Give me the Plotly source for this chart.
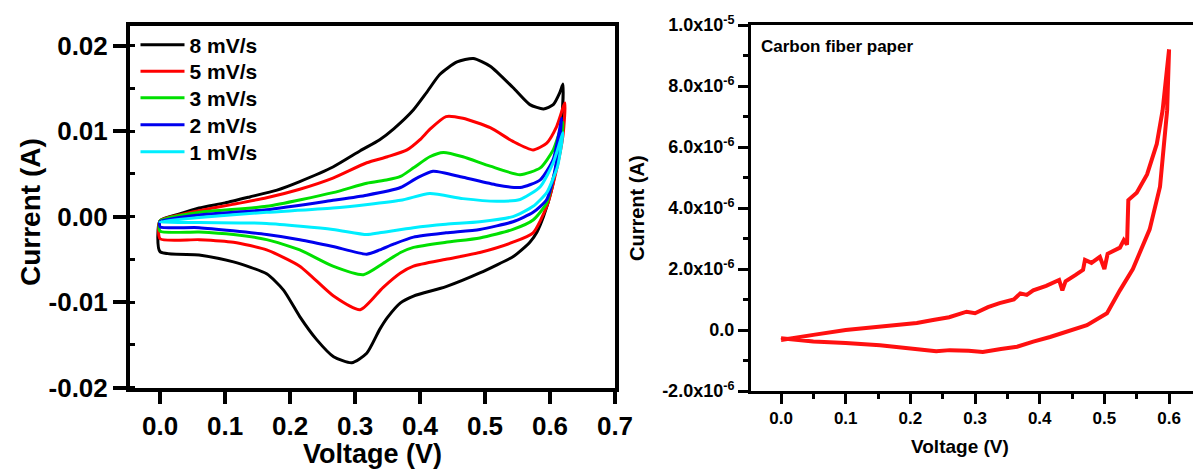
import plotly.graph_objects as go

# ---------------- Left panel: CV at different scan rates ----------------
rate_labels = ["8 mV/s", "5 mV/s", "3 mV/s", "2 mV/s", "1 mV/s"]
rate_colors = ["#000000", "#ff0000", "#00e000", "#0000ee", "#00eeff"]

v8 = [0.0, 0.03, 0.06, 0.10, 0.138, 0.18, 0.215, 0.266, 0.308, 0.338, 0.36, 0.39, 0.41, 0.43, 0.457, 0.482,
      0.508, 0.543, 0.569, 0.59, 0.605, 0.615, 0.62,
      0.618, 0.612, 0.602, 0.59, 0.58, 0.569, 0.55, 0.543, 0.492, 0.44, 0.39, 0.37, 0.35, 0.338, 0.318, 0.295,
      0.267, 0.241, 0.215, 0.19, 0.164, 0.113, 0.06, 0.0, 0.0]
i8 = [-0.0005, 0.0003, 0.0010, 0.0016, 0.0023, 0.0031, 0.0041, 0.0058, 0.0077, 0.0090, 0.0103, 0.0125, 0.0145,
      0.0166, 0.0181, 0.0185, 0.0176, 0.0151, 0.0131, 0.0126, 0.0131, 0.0145, 0.0155,
      0.0110, 0.0070, 0.0030, 0.0, -0.0018, -0.0030, -0.0043, -0.0047, -0.0066, -0.0082, -0.0093, -0.0101,
      -0.0118, -0.0132, -0.0160, -0.0171, -0.0164, -0.0144, -0.0117, -0.0086, -0.0067, -0.0053, -0.0045,
      -0.0041, -0.0005]

v5 = [0.0, 0.03, 0.06, 0.11, 0.164, 0.215, 0.266, 0.318, 0.35, 0.38, 0.40, 0.415, 0.44, 0.466, 0.508, 0.543,
      0.574, 0.595, 0.61, 0.623,
      0.62, 0.61, 0.595, 0.574, 0.543, 0.492, 0.44, 0.39, 0.37, 0.343, 0.308, 0.267, 0.215, 0.164, 0.113, 0.06,
      0.0, 0.0]
i5 = [-0.0005, 0.0002, 0.0007, 0.0014, 0.0022, 0.0032, 0.0045, 0.0063, 0.0070, 0.0078, 0.0090, 0.0102, 0.0117,
      0.0115, 0.0104, 0.0088, 0.0078, 0.0086, 0.0105, 0.0133,
      0.0095, 0.0055, 0.0012, -0.0019, -0.0030, -0.0042, -0.0050, -0.0058, -0.0066, -0.0083, -0.0109, -0.0093,
      -0.0058, -0.0039, -0.0030, -0.0027, -0.0026, -0.0005]

v3 = [0.0, 0.06, 0.164, 0.266, 0.318, 0.35, 0.37, 0.39, 0.415, 0.436, 0.466, 0.508, 0.554, 0.585, 0.605, 0.62,
      0.615, 0.605, 0.595, 0.574, 0.543, 0.492, 0.44, 0.39, 0.37, 0.343, 0.313, 0.266, 0.215, 0.164, 0.113, 0.06,
      0.0, 0.0]
i3 = [-0.0005, 0.0005, 0.0012, 0.0028, 0.0039, 0.0043, 0.0047, 0.0057, 0.0070, 0.0075, 0.0070, 0.0059, 0.0049,
      0.0057, 0.0078, 0.0110,
      0.0075, 0.0045, 0.0016, -0.0004, -0.0015, -0.0025, -0.0030, -0.0036, -0.0042, -0.0055, -0.0068, -0.0058,
      -0.0039, -0.0027, -0.0021, -0.0018, -0.0017, -0.0005]

v2 = [0.0, 0.06, 0.164, 0.266, 0.318, 0.37, 0.395, 0.42, 0.466, 0.518, 0.554, 0.585, 0.605, 0.618,
      0.612, 0.605, 0.595, 0.574, 0.543, 0.492, 0.44, 0.39, 0.36, 0.338, 0.318, 0.266, 0.215, 0.164, 0.06,
      0.0, 0.0]
i2 = [-0.0006, 0.0002, 0.0008, 0.0019, 0.0025, 0.0034, 0.0045, 0.0053, 0.0046, 0.0037, 0.0034, 0.0043,
      0.0067, 0.0115,
      0.0075, 0.0045, 0.0020, 0.0005, -0.0006, -0.0015, -0.0019, -0.0024, -0.0032, -0.0039, -0.0044, -0.0035,
      -0.0027, -0.0021, -0.0013, -0.0012, -0.0006]

v1 = [0.0, 0.06, 0.164, 0.266, 0.37, 0.415, 0.466, 0.518, 0.554, 0.585, 0.605, 0.62,
      0.612, 0.605, 0.595, 0.574, 0.543, 0.492, 0.44, 0.39, 0.338, 0.318, 0.266, 0.164, 0.06, 0.0]
i1 = [-0.0006, -0.0001, 0.0005, 0.0010, 0.0019, 0.0027, 0.0021, 0.0018, 0.0020, 0.0035, 0.0063, 0.0098,
      0.0060, 0.0045, 0.0028, 0.0012, 0.0, -0.0006, -0.0009, -0.0013, -0.0019, -0.0021, -0.0015, -0.0008,
      -0.0007, -0.0006]

left_v = [v8, v5, v3, v2, v1]
left_i = [i8, i5, i3, i2, i1]

left_xticks = [0.0, 0.1, 0.2, 0.3, 0.4, 0.5, 0.6, 0.7]
left_yticks = [-0.02, -0.01, 0.0, 0.01, 0.02]
left_yticktext = ["-0.02", "-0.01", "0.00", "0.01", "0.02"]

# ---------------- Right panel: carbon fiber paper ----------------
cfp_v = [0.0, 0.02, 0.05, 0.10, 0.153, 0.184, 0.21, 0.235, 0.26, 0.287, 0.30, 0.32, 0.338, 0.36, 0.37, 0.38,
         0.39, 0.41, 0.43, 0.435, 0.44, 0.455, 0.467, 0.47, 0.48, 0.493, 0.50, 0.505, 0.515, 0.524, 0.53, 0.535,
         0.537, 0.55, 0.566, 0.581, 0.59, 0.60,
         0.597, 0.586, 0.57, 0.544, 0.524, 0.504, 0.473, 0.45, 0.416, 0.39, 0.365, 0.34, 0.312, 0.29, 0.261,
         0.24, 0.21, 0.18, 0.153, 0.10, 0.05, 0.0]
cfp_i = [-0.33e-6, -0.25e-6, -0.16e-6, 0.0, 0.10e-6, 0.16e-6, 0.23e-6, 0.33e-6, 0.42e-6, 0.60e-6, 0.55e-6,
         0.75e-6, 0.88e-6, 1.0e-6, 1.2e-6, 1.15e-6, 1.3e-6, 1.45e-6, 1.64e-6, 1.3e-6, 1.6e-6, 1.8e-6, 1.97e-6,
         2.3e-6, 2.2e-6, 2.4e-6, 2.0e-6, 2.5e-6, 2.6e-6, 2.7e-6, 2.95e-6, 2.8e-6, 4.26e-6, 4.5e-6, 5.1e-6,
         6.1e-6, 7.2e-6, 9.2e-6,
         7.2e-6, 4.7e-6, 3.3e-6, 2.0e-6, 1.3e-6, 0.55e-6, 0.16e-6, 0.0, -0.23e-6, -0.38e-6, -0.55e-6, -0.62e-6,
         -0.72e-6, -0.68e-6, -0.66e-6, -0.70e-6, -0.63e-6, -0.58e-6, -0.50e-6, -0.43e-6, -0.38e-6, -0.27e-6]

right_xticks = [0.0, 0.1, 0.2, 0.3, 0.4, 0.5, 0.6]
right_yticks = [-2e-6, 0.0, 2e-6, 4e-6, 6e-6, 8e-6, 1e-5]
right_yticktext = ["-2.0x10<sup>-6</sup>", "0.0", "2.0x10<sup>-6</sup>", "4.0x10<sup>-6</sup>",
                   "6.0x10<sup>-6</sup>", "8.0x10<sup>-6</sup>", "1.0x10<sup>-5</sup>"]

FONT = "Liberation Sans, Arial, sans-serif"
W, H = 1193, 470

legend_rows_px = [45, 71.5, 98, 125, 152]
legend_names = ["legend", "legend2", "legend3", "legend4", "legend5"]

fig = go.Figure()
for k, (lbl, col, vv, ii) in enumerate(zip(rate_labels, rate_colors, left_v, left_i)):
    fig.add_trace(go.Scatter(x=vv, y=ii, mode="lines", name=lbl, legend=legend_names[k],
                             line=dict(color=col, width=3, shape="spline", smoothing=0.6),
                             xaxis="x", yaxis="y"))

fig.add_trace(go.Scatter(x=cfp_v, y=cfp_i, mode="lines", showlegend=False,
                         line=dict(color="#ff1010", width=4),
                         xaxis="x2", yaxis="y2"))

lx = [130 / W, 615 / W]
ly = [1 - 387.5 / H, 1 - 26 / H]
rx = [751 / W, 1.0]
ry = [1 - 391 / H, 1 - 25 / H]

legend_style = dict(xanchor="left", yanchor="middle", bgcolor="rgba(0,0,0,0)",
                    font=dict(size=21, family=FONT, weight="bold", color="black"),
                    itemwidth=44, borderwidth=0)
layout_legends = {}
for name, ypx in zip(legend_names, legend_rows_px):
    layout_legends[name] = dict(x=135.5 / W, y=1 - ypx / H, **legend_style)

fig.update_layout(
    width=W, height=H, margin=dict(l=0, r=0, t=0, b=0, autoexpand=False),
    paper_bgcolor="white", plot_bgcolor="white",
    font=dict(family=FONT, color="black"),
    showlegend=True,
    **layout_legends,
    xaxis=dict(domain=lx, range=[-0.0462, 0.7], anchor="y", tickvals=left_xticks, automargin=False,
               tickformat=".1f", showgrid=False, zeroline=False, showline=True, linewidth=4,
               linecolor="black", mirror=True, ticks="outside", ticklen=12, tickwidth=4,
               tickcolor="black", tickfont=dict(size=26, family=FONT, weight="bold")),
    yaxis=dict(domain=ly, range=[-0.02, 0.0223], anchor="x", tickvals=left_yticks, automargin=False,
               ticktext=left_yticktext, showgrid=False, zeroline=False, showline=True, linewidth=4,
               linecolor="black", mirror=True, ticks="outside", ticklen=13, tickwidth=4,
               tickcolor="black", tickfont=dict(size=26, family=FONT, weight="bold"),
               minor=dict(ticks="inside", dtick=0.005, tick0=0, ticklen=5, tickwidth=3, tickcolor="black")),
    yaxis3=dict(overlaying="y", side="right", anchor="x", range=[-0.02, 0.0223], showgrid=False,
                zeroline=False, showticklabels=False, ticks="inside", tickvals=left_yticks,
                automargin=False, ticklen=5, tickwidth=3, tickcolor="black",
                minor=dict(ticks="inside", dtick=0.005, tick0=0, ticklen=5, tickwidth=3, tickcolor="black")),
    xaxis2=dict(domain=rx, range=[-0.0464, 0.637], anchor="y2", tickvals=right_xticks, automargin=False,
                tickformat=".1f", showgrid=False, zeroline=False, showline=True, linewidth=3,
                linecolor="black", mirror=True, ticks="outside", ticklen=10, tickwidth=3,
                tickcolor="black", tickfont=dict(size=17, family=FONT, weight="bold"),
                minor=dict(ticks="outside", dtick=0.05, tick0=0, ticklen=5, tickwidth=3, tickcolor="black")),
    yaxis2=dict(domain=ry, range=[-2e-6, 1e-5], anchor="x2", tickvals=right_yticks, automargin=False,
                ticktext=right_yticktext, showgrid=False, zeroline=False, showline=True, linewidth=3,
                linecolor="black", mirror=True, ticks="outside", ticklen=10, tickwidth=3,
                tickcolor="black", tickfont=dict(size=18, family=FONT, weight="bold"),
                minor=dict(ticks="outside", dtick=1e-6, tick0=0, ticklen=5, tickwidth=3, tickcolor="black")),
)

annots = [
    dict(text="Current (A)", x=30 / W, y=1 - 212 / H, textangle=-90, font=dict(size=28, weight="bold")),
    dict(text="Voltage (V)", x=372 / W, y=1 - 454 / H, font=dict(size=27, weight="bold")),
    dict(text="Current (A)", x=637 / W, y=1 - 208 / H, textangle=-90, font=dict(size=20, weight="bold")),
    dict(text="Voltage (V)", x=960 / W, y=1 - 446 / H, font=dict(size=19, weight="bold")),
]
for a in annots:
    fig.add_annotation(xref="paper", yref="paper", showarrow=False, xanchor="center", yanchor="middle",
                       font_family=FONT, font_color="black", **a)
fig.add_annotation(xref="paper", yref="paper", x=759 / W, y=1 - 47 / H, xanchor="left", yanchor="middle",
                   showarrow=False, text="Carbon fiber paper",
                   font=dict(size=17, family=FONT, weight="bold", color="black"))

fig.write_html("out.html")
